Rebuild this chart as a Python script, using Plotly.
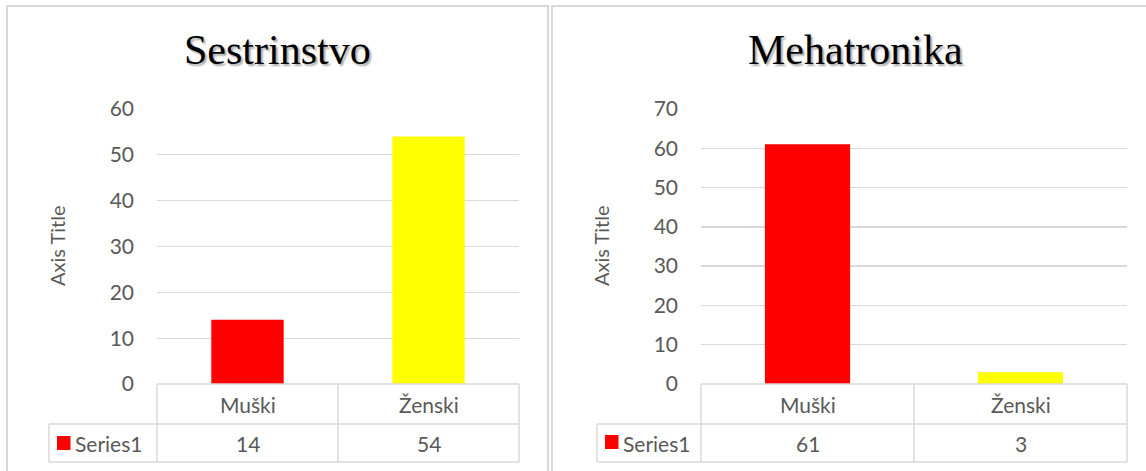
import plotly.graph_objects as go

# ---- data ----
titles = ["Sestrinstvo", "Mehatronika"]
categories = ["Muški", "Ženski"]
values_sestrinstvo = [14, 54]
values_mehatronika = [61, 3]
bar_colors = ["#FF0000", "#FFFF00"]
series_name = "Series1"
y_max = [60, 70]
y_dtick = 10
axis_title = "Axis Title"

W, H = 1146, 471
def px(x):
    return x / W
def py(y):
    return 1 - y / H

GRID = "#D9D9D9"
TXT = "#595959"
SANS = "Lato, Calibri, sans-serif"
SERIF = "Liberation Serif, Times New Roman, serif"

panels = [
    dict(box=(7, 6, 548, 480), plot=(157, 519), table_left=49, key=(57, 436), atitle_x=57, title_x=277.5),
    dict(box=(552, 6, 1158, 480), plot=(701, 1127), table_left=597, key=(605, 435), atitle_x=601, title_x=855),
]
plot_top, plot_bot, row_sep, table_bot = 109, 384, 424, 462

fig = go.Figure()
shapes = []
annotations = []
all_values = [values_sestrinstvo, values_mehatronika]

def ann(**kw):
    d = dict(showarrow=False, xanchor="center", yanchor="middle")
    d.update(kw)
    annotations.append(d)

for i, (title, vals, geo) in enumerate(zip(titles, all_values, panels)):
    sfx = "" if i == 0 else str(i + 1)
    xa, ya = "x" + sfx, "y" + sfx
    fig.add_trace(go.Bar(
        x=categories, y=vals, marker=dict(color=bar_colors, line=dict(width=0)),
        width=0.4, xaxis=xa, yaxis=ya, showlegend=False, name=series_name,
    ))
    x0, x1 = geo["plot"]
    fig.update_layout(**{
        "xaxis" + sfx: dict(domain=[px(x0), px(x1)], anchor=ya, showticklabels=False,
                             showgrid=False, zeroline=False, showline=False, automargin=False,
                             range=[-0.5, len(categories) - 0.5], fixedrange=True),
        "yaxis" + sfx: dict(domain=[py(plot_bot), py(plot_top)], anchor=xa, automargin=False,
                             range=[0, y_max[i]], dtick=y_dtick, showgrid=True,
                             gridcolor=GRID, gridwidth=1.3, zeroline=False, showline=False,
                             tickfont=dict(family=SANS, size=21, color=TXT),
                             ticklabelstandoff=22, fixedrange=True),
    })
    bx0, by0, bx1, by1 = geo["box"]
    shapes.append(dict(type="rect", xref="paper", yref="paper",
                       x0=px(bx0), x1=px(bx1), y0=py(by1), y1=py(by0),
                       line=dict(color=GRID, width=2), fillcolor="rgba(0,0,0,0)"))
    tl = geo["table_left"]
    line = dict(color=GRID, width=1.5)
    for (xa0, ya0, xa1, ya1) in [
        (x0, plot_bot, x1, plot_bot), (tl, row_sep, x1, row_sep), (tl, table_bot, x1, table_bot),
        (tl, row_sep, tl, table_bot), (x0, plot_bot, x0, table_bot), (x1, plot_bot, x1, table_bot),
    ]:
        shapes.append(dict(type="line", xref="paper", yref="paper", x0=px(xa0), x1=px(xa1),
                           y0=py(ya0), y1=py(ya1), line=line))
    for k in range(len(categories) - 1):
        shapes.append(dict(type="line", xref=xa, yref="paper", x0=k + 0.5, x1=k + 0.5,
                           y0=py(plot_bot), y1=py(table_bot), line=line))
    for c, v in zip(categories, vals):
        ann(x=c, xref=xa, y=py((plot_bot + row_sep) / 2), yref="paper", text=c,
            font=dict(family=SANS, size=21, color=TXT))
        ann(x=c, xref=xa, y=py((row_sep + table_bot) / 2), yref="paper", text=str(v),
            font=dict(family=SANS, size=21, color=TXT))
    kx, ky = geo["key"]
    shapes.append(dict(type="rect", xref="paper", yref="paper", x0=px(kx), x1=px(kx + 13.5),
                       y0=py(ky + 14), y1=py(ky), fillcolor=bar_colors[0], line=dict(width=0)))
    ann(x=px(kx + 16), y=py((row_sep + table_bot) / 2), xref="paper", yref="paper",
        xanchor="left", text=series_name, font=dict(family=SANS, size=21, color=TXT))
    ann(x=px(geo["atitle_x"]), y=py(246), xref="paper", yref="paper",
        text=axis_title, textangle=-90, font=dict(family=SANS, size=20, color=TXT))
    ann(x=px(geo["title_x"]), y=py(50), xref="paper", yref="paper", text=title,
        font=dict(family=SERIF, size=42, color="#000000",
                  shadow="2px 2px 2px rgba(0,0,0,0.35)"))

fig.update_layout(
    width=W, height=H, margin=dict(l=0, r=0, t=0, b=0, pad=0), autosize=False,
    paper_bgcolor="white", plot_bgcolor="white",
    shapes=shapes, annotations=annotations, bargap=0.6,
)
fig.write_html("out.html", config={"displayModeBar": False, "staticPlot": True},
               post_script="document.body.style.margin='0';document.body.style.overflow='hidden';")
